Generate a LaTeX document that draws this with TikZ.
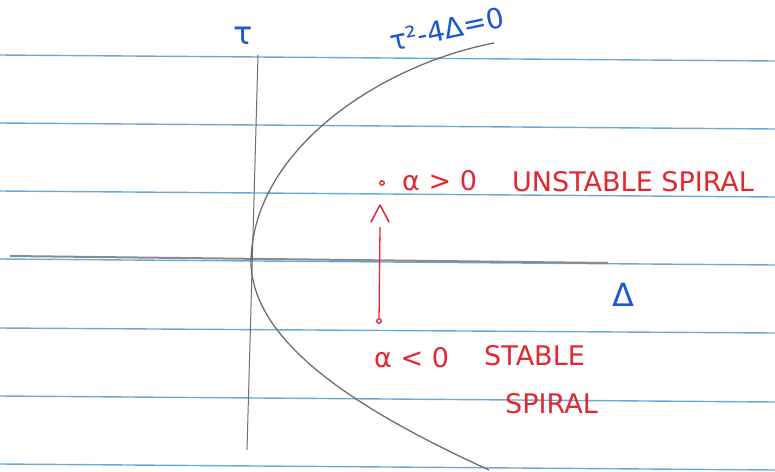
\documentclass[tikz,border=0pt]{standalone}
\usepackage{fontspec}
\setmainfont{DejaVu Sans}
\usetikzlibrary{arrows.meta}
\definecolor{ink}{RGB}{228,38,48}
\definecolor{pen}{RGB}{28,88,210}
\definecolor{rulecol}{RGB}{105,170,220}
\definecolor{pencil}{RGB}{110,110,110}
\tikzset{
  ruleline/.style={rulecol, line width=1.4pt},
  axisline/.style={pencil, line width=1pt},
  redtxt/.style={text=ink, inner sep=0pt, font=\fontsize{27}{30}\selectfont},
  bluetxt/.style={text=pen, inner sep=0pt, font=\fontsize{32}{36}\selectfont},
  reddot/.style={circle, draw=ink, line width=1.3pt, inner sep=1.6pt}
}
\begin{document}
\begin{tikzpicture}[x=1pt,y=-1pt]
\useasboundingbox (0,0) rectangle (775,471);
\fill[white] (0,0) rectangle (775,471);
% notebook rules
\foreach \ya/\yb in {55/61, 123/129, 191/197, 259/265, 328/333, 396/402, 464/470}
  \draw[ruleline] (0,\ya) -- (775,\yb);
% axes
\draw[pencil!80, line width=2pt] (10,256) -- (608,263);
\draw[axisline] (258,55) -- (247,450);
% parabola tau^2 - 4 Delta = 0
\draw[pencil, line width=1.3pt] (494,43) .. controls (380,65) and (252,150) .. (251,262)
  .. controls (252,350) and (380,420) .. (489,470);
% labels
\node[bluetxt] (tau) at (243,36) {τ};
\node[bluetxt] (delta) at (623,295) {Δ};
\node[text=pen, inner sep=0pt, font=\fontsize{28}{30}\selectfont, rotate=12] (curve) at (447,29) {τ²‑4Δ=0};
% red annotations
\node[reddot] (hi) at (382,183) {};
\node[reddot] (lo) at (379,321) {};
\node[redtxt, anchor=west] (agt) at (402,181) {α > 0};
\node[redtxt, anchor=west] (uns) at (512,182) {UNSTABLE SPIRAL};
\node[redtxt, anchor=west] (alt) at (374,358) {α < 0};
\node[redtxt, anchor=west] (st) at (484,356) {STABLE};
\node[redtxt, anchor=west] (sp) at (505,404) {SPIRAL};
\coordinate (lineend) at (380,227);
\draw[ink, line width=1.3pt] (lo) -- (lineend);
\draw[ink, line width=1.5pt, line cap=round, line join=round] (371,222) -- (380,205) -- (389,222);
\end{tikzpicture}
\end{document}
